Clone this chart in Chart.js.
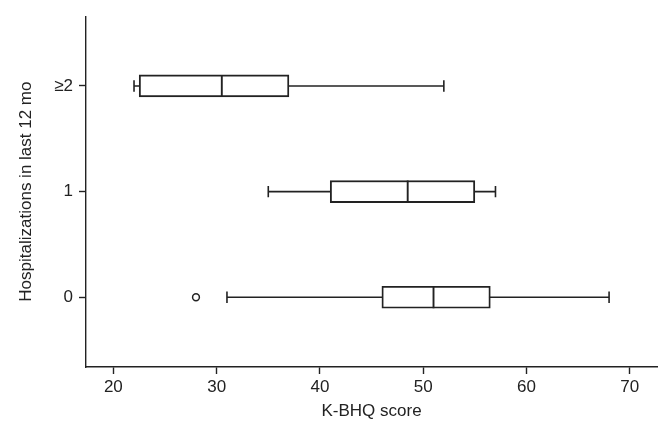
<!DOCTYPE html>
<html>
<head>
<meta charset="utf-8">
<script src="https://cdn.jsdelivr.net/npm/chart.js@4.4.1/dist/chart.umd.min.js"></script>
<style>
	html, body { margin: 0; padding: 0; background: #fff; }
	#wrap { width: 670px; height: 431px; }
</style>
</head>
<body>
<div id="wrap"><canvas id="kbhq-box"></canvas></div>
<script>
	// categories from bottom (0) to top (≥2)
	var categories = ["0", "1", "≥2"];
	var whiskerLow = [31, 35, 22];
	var q1 = [46, 41, 22.5];
	var median = [51, 48.5, 30.5];
	var q3 = [56.5, 55, 37];
	var whiskerHigh = [68, 57, 52];
	var outlierValues = [28];
	var outlierCategory = [0];
	var xTicks = [20, 30, 40, 50, 60, 70];

	var ink = "#222222";
	var font = { family: "'Liberation Sans', Arial, sans-serif", size: 17 };

	var whiskerSets = categories.map(function(c, i) {
		return {
			type : "scatter",
			data : [ { x : whiskerLow[i], y : i }, { x : whiskerHigh[i], y : i } ],
			showLine : true,
			borderColor : ink,
			borderWidth : 1.6,
			pointRadius : 0,
			order : 3
		};
	});

	var boxSet = {
		type : "bar",
		data : categories.map(function(c, i) { return { x : [q1[i], q3[i]], y : i }; }),
		backgroundColor : "#ffffff",
		borderColor : ink,
		borderWidth : 1.9,
		borderSkipped : false,
		barThickness : 22,
		order : 2
	};

	var medianSet = {
		type : "scatter",
		data : categories.map(function(c, i) { return { x : median[i], y : i }; }),
		pointStyle : "line",
		rotation : 90,
		pointRadius : 11,
		borderColor : ink,
		borderWidth : 1.9,
		order : 1
	};

	var capSet = {
		type : "scatter",
		data : categories.map(function(c, i) { return { x : whiskerLow[i], y : i }; })
			.concat(categories.map(function(c, i) { return { x : whiskerHigh[i], y : i }; })),
		pointStyle : "line",
		rotation : 90,
		pointRadius : 5.7,
		borderColor : ink,
		borderWidth : 1.6,
		order : 1
	};

	var outlierSet = {
		type : "scatter",
		data : outlierValues.map(function(v, i) { return { x : v, y : outlierCategory[i] }; }),
		pointStyle : "circle",
		pointRadius : 3.4,
		backgroundColor : "#ffffff",
		borderColor : ink,
		borderWidth : 1.5,
		order : 1
	};

	var ctx = document.getElementById("kbhq-box");

	new Chart(ctx, {
		type : "bar",
		data : { datasets : whiskerSets.concat([boxSet, medianSet, capSet, outlierSet]) },
		options : {
			indexAxis : "y",
			responsive : true,
			maintainAspectRatio : false,
			animation : false,
			layout : { padding : { top : 15, right : 11, left : 0, bottom : 0 } },
			plugins : {
				legend : { display : false },
				tooltip : { enabled : false }
			},
			scales : {
				x : {
					type : "linear",
					min : 17.35,
					max : 72.65,
					afterBuildTicks : function(scale) {
						scale.ticks = xTicks.map(function(v) { return { value : v }; });
					},
					afterFit : function(scale) { scale.height = 64; },
					grid : { display : true, drawOnChartArea : false, drawTicks : true, tickLength : 7, tickWidth : 1.4, tickColor : ink },
					border : { display : true, color : ink, width : 1.4 },
					ticks : { color : "#222", font : font, padding : 3, maxRotation : 0 },
					title : { display : true, text : "K-BHQ score", color : "#222", font : font, padding : { top : 4, bottom : 9 } }
				},
				y : {
					type : "linear",
					min : -0.66,
					max : 2.66,
					offset : false,
					afterBuildTicks : function(scale) {
						scale.ticks = categories.map(function(c, i) { return { value : i }; });
					},
					afterFit : function(scale) { scale.width = 86; },
					grid : { display : true, offset : false, drawOnChartArea : false, drawTicks : true, tickLength : 7, tickWidth : 1.4, tickColor : ink },
					border : { display : true, color : ink, width : 1.4 },
					ticks : {
						color : "#222",
						font : font,
						padding : 6,
						callback : function(value) { return categories[value]; }
					},
					title : { display : true, text : "Hospitalizations in last 12 mo", color : "#222", font : font, padding : { top : 16, bottom : 4 } }
				}
			}
		}
	});
</script>
</body>
</html>
